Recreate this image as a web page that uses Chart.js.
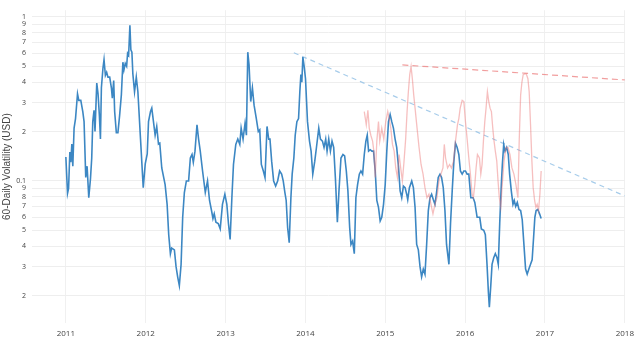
<!DOCTYPE html>
<html>
<head>
<meta charset="utf-8">
<script src="https://cdn.jsdelivr.net/npm/chart.js@4"></script>
<style>
  body { margin: 0; background: #fff; }
</style>
</head>
<body>
<canvas id="grafico" width="640" height="351"></canvas>
<script>
// volatilidade 60 dias (USD), anos em decimal
var blueYears = [2011.00, 2011.021, 2011.034, 2011.050, 2011.062, 2011.075, 2011.087, 2011.103, 2011.121, 2011.146,
  2011.162, 2011.187, 2011.212, 2011.228, 2011.249, 2011.266, 2011.287, 2011.308, 2011.324, 2011.337,
  2011.353, 2011.365, 2011.387, 2011.403, 2011.420, 2011.433, 2011.445, 2011.465, 2011.478, 2011.495,
  2011.511, 2011.527, 2011.549, 2011.570, 2011.582, 2011.599, 2011.611, 2011.632, 2011.652, 2011.673,
  2011.695, 2011.714, 2011.727, 2011.744, 2011.761, 2011.773, 2011.786, 2011.802, 2011.814, 2011.827,
  2011.839, 2011.860, 2011.882, 2011.902, 2011.935, 2011.969, 2011.994, 2012.019, 2012.035, 2012.060,
  2012.076, 2012.097, 2012.118, 2012.138, 2012.160, 2012.176, 2012.201, 2012.243, 2012.268, 2012.288,
  2012.309, 2012.325, 2012.359, 2012.380, 2012.400, 2012.421, 2012.443, 2012.463, 2012.484, 2012.509,
  2012.537, 2012.559, 2012.580, 2012.596, 2012.617, 2012.642, 2012.662, 2012.683, 2012.712, 2012.746,
  2012.774, 2012.799, 2012.824, 2012.842, 2012.858, 2012.879, 2012.908, 2012.933, 2012.961, 2012.991,
  2013.016, 2013.036, 2013.057, 2013.079, 2013.099, 2013.128, 2013.153, 2013.178, 2013.195, 2013.219,
  2013.244, 2013.261, 2013.278, 2013.294, 2013.315, 2013.336, 2013.357, 2013.385, 2013.410, 2013.428,
  2013.448, 2013.473, 2013.494, 2013.519, 2013.540, 2013.556, 2013.577, 2013.602, 2013.627, 2013.652,
  2013.677, 2013.702, 2013.722, 2013.743, 2013.759, 2013.777, 2013.797, 2013.818, 2013.834, 2013.855,
  2013.872, 2013.893, 2013.914, 2013.930, 2013.943, 2013.955, 2013.968, 2013.984, 2014.001, 2014.026,
  2014.051, 2014.071, 2014.092, 2014.117, 2014.138, 2014.167, 2014.188, 2014.213, 2014.233, 2014.254,
  2014.271, 2014.292, 2014.313, 2014.333, 2014.354, 2014.375, 2014.400, 2014.420, 2014.445, 2014.470,
  2014.491, 2014.512, 2014.532, 2014.554, 2014.570, 2014.591, 2014.612, 2014.632, 2014.653, 2014.675,
  2014.695, 2014.716, 2014.737, 2014.757, 2014.774, 2014.791, 2014.812, 2014.832, 2014.853, 2014.874,
  2014.894, 2014.915, 2014.936, 2014.956, 2014.978, 2014.999, 2015.019, 2015.040, 2015.061, 2015.081,
  2015.102, 2015.123, 2015.143, 2015.165, 2015.186, 2015.206, 2015.227, 2015.248, 2015.268, 2015.281,
  2015.302, 2015.331, 2015.352, 2015.373, 2015.393, 2015.414, 2015.435, 2015.455, 2015.476, 2015.497,
  2015.518, 2015.539, 2015.560, 2015.580, 2015.601, 2015.622, 2015.642, 2015.663, 2015.685, 2015.705,
  2015.726, 2015.747, 2015.767, 2015.797, 2015.817, 2015.838, 2015.859, 2015.879, 2015.900, 2015.921,
  2015.941, 2015.963, 2015.984, 2016.004, 2016.025, 2016.046, 2016.071, 2016.100, 2016.121, 2016.150,
  2016.183, 2016.203, 2016.233, 2016.253, 2016.274, 2016.291, 2016.303, 2016.321, 2016.337, 2016.358,
  2016.378, 2016.399, 2016.415, 2016.433, 2016.453, 2016.466, 2016.483, 2016.499, 2016.520, 2016.540,
  2016.557, 2016.578, 2016.599, 2016.615, 2016.633, 2016.653, 2016.674, 2016.695, 2016.715, 2016.736,
  2016.757, 2016.777, 2016.798, 2016.819, 2016.839, 2016.857, 2016.873, 2016.889, 2016.910, 2016.932,
  2016.952];
var blueVals = [0.14, 0.084, 0.09, 0.15, 0.13, 0.168, 0.123, 0.21, 0.24, 0.34,
  0.31, 0.31, 0.265, 0.23, 0.105, 0.123, 0.079, 0.103, 0.138, 0.23,
  0.27, 0.2, 0.395, 0.34, 0.25, 0.18, 0.37, 0.49, 0.55, 0.44,
  0.46, 0.43, 0.43, 0.37, 0.32, 0.41, 0.265, 0.197, 0.197, 0.25,
  0.335, 0.53, 0.475, 0.52, 0.5, 0.6, 0.585, 0.89, 0.63, 0.61,
  0.45, 0.35, 0.43, 0.35, 0.18, 0.091, 0.127, 0.146, 0.23, 0.265,
  0.278, 0.23, 0.19, 0.215, 0.168, 0.17, 0.12, 0.095, 0.072, 0.047,
  0.036, 0.039, 0.038, 0.03, 0.026, 0.023, 0.031, 0.06, 0.085, 0.1,
  0.1, 0.138, 0.145, 0.13, 0.152, 0.22, 0.18, 0.152, 0.115, 0.085,
  0.1, 0.076, 0.066, 0.059, 0.063, 0.056, 0.055, 0.051, 0.072, 0.083,
  0.072, 0.055, 0.044, 0.079, 0.126, 0.167, 0.18, 0.167, 0.21, 0.18,
  0.225, 0.19, 0.61, 0.51, 0.305, 0.37, 0.29, 0.24, 0.2, 0.205,
  0.126, 0.115, 0.105, 0.215, 0.18, 0.18, 0.132, 0.1, 0.093, 0.1,
  0.115, 0.11, 0.1, 0.085, 0.076, 0.052, 0.042, 0.079, 0.11, 0.138,
  0.19, 0.23, 0.24, 0.35, 0.445, 0.4, 0.57, 0.5, 0.42, 0.23,
  0.175, 0.152, 0.11, 0.132, 0.16, 0.21, 0.18, 0.175, 0.16, 0.18,
  0.152, 0.18, 0.152, 0.175, 0.16, 0.105, 0.056, 0.087, 0.138, 0.145,
  0.142, 0.115, 0.087, 0.052, 0.041, 0.043, 0.036, 0.079, 0.095, 0.11,
  0.115, 0.11, 0.145, 0.175, 0.19, 0.152, 0.155, 0.152, 0.152, 0.115,
  0.076, 0.069, 0.057, 0.06, 0.072, 0.095, 0.152, 0.23, 0.254, 0.23,
  0.21, 0.18, 0.16, 0.123, 0.087, 0.079, 0.093, 0.091, 0.083, 0.077,
  0.091, 0.1, 0.091, 0.069, 0.041, 0.038, 0.03, 0.026, 0.029, 0.027,
  0.041, 0.066, 0.079, 0.083, 0.077, 0.072, 0.085, 0.105, 0.11, 0.105,
  0.091, 0.066, 0.041, 0.031, 0.055, 0.087, 0.132, 0.17, 0.16, 0.145,
  0.115, 0.11, 0.115, 0.115, 0.11, 0.11, 0.079, 0.079, 0.074, 0.06,
  0.06, 0.051, 0.05, 0.047, 0.031, 0.021, 0.017, 0.023, 0.031, 0.034,
  0.036, 0.034, 0.031, 0.055, 0.095, 0.126, 0.167, 0.152, 0.16, 0.145,
  0.11, 0.087, 0.072, 0.076, 0.07, 0.074, 0.067, 0.066, 0.058, 0.041,
  0.029, 0.027, 0.029, 0.031, 0.033, 0.045, 0.06, 0.066, 0.067, 0.063,
  0.059];

var pinkYears = [2014.737, 2014.762, 2014.782, 2014.799, 2014.819, 2014.841, 2014.857, 2014.874, 2014.894, 2014.915,
  2014.931, 2014.956, 2014.981, 2015.006, 2015.031, 2015.049, 2015.069, 2015.090, 2015.111, 2015.131,
  2015.152, 2015.173, 2015.193, 2015.214, 2015.235, 2015.255, 2015.273, 2015.289, 2015.306, 2015.323,
  2015.339, 2015.356, 2015.373, 2015.398, 2015.423, 2015.448, 2015.473, 2015.497, 2015.522, 2015.547,
  2015.572, 2015.597, 2015.622, 2015.647, 2015.672, 2015.697, 2015.722, 2015.739, 2015.755, 2015.780,
  2015.805, 2015.829, 2015.854, 2015.879, 2015.904, 2015.921, 2015.938, 2015.963, 2015.984, 2016.004,
  2016.025, 2016.046, 2016.066, 2016.087, 2016.103, 2016.121, 2016.137, 2016.154, 2016.179, 2016.196,
  2016.212, 2016.229, 2016.246, 2016.262, 2016.279, 2016.296, 2016.312, 2016.329, 2016.346, 2016.362,
  2016.378, 2016.396, 2016.412, 2016.428, 2016.446, 2016.462, 2016.487, 2016.512, 2016.536, 2016.561,
  2016.586, 2016.611, 2016.636, 2016.661, 2016.677, 2016.695, 2016.711, 2016.727, 2016.745, 2016.765,
  2016.786, 2016.802, 2016.819, 2016.836, 2016.852, 2016.870, 2016.886, 2016.902, 2016.919, 2016.936,
  2016.952];
var pinkVals = [0.265, 0.22, 0.27, 0.21, 0.19, 0.175, 0.152, 0.105, 0.175, 0.23,
  0.175, 0.21, 0.18, 0.23, 0.265, 0.24, 0.21, 0.167, 0.152, 0.12,
  0.105, 0.145, 0.12, 0.1, 0.132, 0.18, 0.265, 0.35, 0.445, 0.5,
  0.42, 0.335, 0.278, 0.21, 0.16, 0.126, 0.11, 0.091, 0.079, 0.083,
  0.072, 0.063, 0.072, 0.079, 0.1, 0.11, 0.12, 0.167, 0.138, 0.12,
  0.126, 0.12, 0.132, 0.175, 0.22, 0.24, 0.278, 0.31, 0.305, 0.23,
  0.18, 0.138, 0.11, 0.083, 0.079, 0.095, 0.12, 0.145, 0.138, 0.11,
  0.126, 0.175, 0.23, 0.278, 0.35, 0.305, 0.278, 0.265, 0.21, 0.175,
  0.152, 0.132, 0.1, 0.079, 0.069, 0.091, 0.132, 0.16, 0.16, 0.145,
  0.12, 0.11, 0.095, 0.079, 0.175, 0.335, 0.4, 0.445, 0.45, 0.45,
  0.42, 0.35, 0.22, 0.132, 0.091, 0.076, 0.069, 0.072, 0.066, 0.083,
  0.115];

// linhas de tendencia
var blueTrendYears = [2013.855, 2018];
var blueTrendVals = [0.605, 0.081];
var pinkTrendYears = [2015.214, 2018];
var pinkTrendVals = [0.51, 0.413];

var xTicks = [2011, 2012, 2013, 2014, 2015, 2016, 2017, 2018];
var yTicks = [0.02, 0.03, 0.04, 0.05, 0.06, 0.07, 0.08, 0.09, 0.1,
  0.2, 0.3, 0.4, 0.5, 0.6, 0.7, 0.8, 0.9, 1];

var pontos = function(xs, ys) {
  return xs.map(function(x, i) { return { x: x, y: ys[i] }; });
};

new Chart(document.getElementById("grafico"), {
  type: 'line',
  data: {
    datasets: [{
        data: pontos(pinkYears, pinkVals),
        borderColor: "rgba(236,112,112,0.45)",
        borderWidth: 1.3
      }, {
        data: pontos(blueYears, blueVals),
        borderColor: "rgb(60,135,195)",
        borderWidth: 1.6
      }, {
        data: pontos(blueTrendYears, blueTrendVals),
        borderColor: "rgba(150,195,230,0.85)",
        borderWidth: 1.2,
        borderDash: [5, 4]
      }, {
        data: pontos(pinkTrendYears, pinkTrendVals),
        borderColor: "rgba(236,125,125,0.75)",
        borderWidth: 1.2,
        borderDash: [6, 4]
      }]
  },
  options: {
    responsive: false,
    animation: false,
    layout: { padding: { top: 8, right: 12, left: 0, bottom: 0 } },
    elements: { point: { radius: 0 }, line: { tension: 0 } },
    plugins: { legend: { display: false }, tooltip: { enabled: false } },
    scales: {
      x: {
        type: 'linear',
        min: 2010.576,
        max: 2018,
        afterBuildTicks: function(scale) {
          scale.ticks = xTicks.map(function(v) { return { value: v }; });
        },
        afterFit: function(scale) { scale.height = 28; },
        grid: { color: "#f0f0f0", drawTicks: false },
        border: { display: false },
        ticks: {
          padding: 6,
          color: "#444",
          font: { family: "Open Sans", size: 8 },
          callback: function(v) { return String(v); }
        }
      },
      y: {
        type: 'logarithmic',
        min: 0.0136,
        max: 1.10,
        afterBuildTicks: function(scale) {
          scale.ticks = yTicks.map(function(v) { return { value: v }; });
        },
        afterFit: function(scale) { scale.width = 32; },
        grid: { color: "#eeeeee", drawTicks: false },
        border: { display: false },
        title: {
          display: true,
          text: '60-Daily Volatility (USD)',
          color: "#444",
          padding: 1,
          font: { family: "Liberation Sans", size: 10 }
        },
        ticks: {
          padding: 6,
          color: "#444",
          font: { family: "Open Sans", size: 7 },
          callback: function(v) {
            if (v === 0.1) return '0.1';
            if (v === 1) return '1';
            var p = Math.pow(10, Math.floor(Math.log10(v) + 1e-9));
            return String(Math.round(v / p));
          }
        }
      }
    }
  }
});
</script>
</body>
</html>
